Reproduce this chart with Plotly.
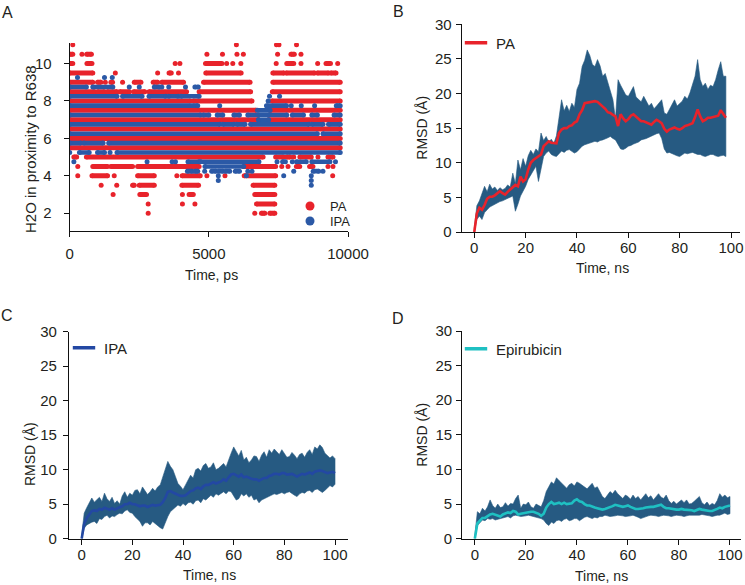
import plotly.graph_objects as go

# ---------------- Panel A data (water count vs time, ps) ----------------
# each level lists runs [start, end] of consecutive frames or single frames [t]
pa_levels = [11, 10.5, 10, 9.5, 9, 8.5, 8, 7.5, 7, 6.5, 6, 5.5, 5, 4.5, 4, 3.5, 3, 2.5, 2]
pa_runs = [
    [[110], [5990], [7430], [7520], [8150]],
    [[0, 110], [440], [610, 780], [4930], [5490], [6010], [6240], [7470], [7950, 8070], [8310]],
    [[0, 110], [620, 800], [3790], [3960], [4880, 5470], [5640], [5860], [6150], [7420], [7800, 8050],
     [8310], [8910], [9210, 9370], [9630]],
    [[0, 830], [1640], [3160], [3570, 3650], [3910], [4890, 6160], [7300, 7700], [7780, 8800],
     [8900, 9300], [9380, 9570]],
    [[0, 830], [1000, 1120], [1280], [1480, 1540], [1900], [2320, 2560], [3000, 3160], [3310, 4090],
     [4810, 6480], [7300, 9720]],
    [[0, 900], [1000, 1250], [1350, 1700], [1800, 2150], [2300, 2700], [2850, 4200], [4650, 6500],
     [7280, 9720]],
    [[0, 4330], [4440, 6550], [7270, 9720]],
    [[0, 6700], [7200, 9720]],
    [[0, 6780], [7150, 9720]],
    [[0, 9720]],
    [[0, 9720]],
    [[0, 9720]],
    [[150, 250], [600, 6950], [7400, 7680], [7800, 7920], [8050], [8270, 8680], [8920], [9280, 9460]],
    [[290], [830, 1360], [1480, 2260], [2440, 3460], [3500, 4650], [6260, 7400], [7620], [7845],
     [8145, 8265], [8620, 8740], [9280], [9460]],
    [[290], [800, 1360], [1600], [2440, 3040], [3850], [4040, 4690], [4930], [5580], [6270, 7400], [9450]],
    [[1130], [1690], [2260, 2320], [2500, 3040], [4030, 4630], [6590, 7370]],
    [[1560], [2520, 2760], [4050], [4290, 4440], [6650, 7370]],
    [[2820], [4050], [4500], [6710, 7370]],
    [[2820], [6650], [6890, 7010], [7190, 7370]],
]

ipa_levels = [9.25, 8.75, 8.25, 8.0, 7.75, 7.5, 7.25, 7.0, 6.75, 6.25, 5.75, 5.25, 4.75, 4.5, 4.25, 4.0, 3.75, 3.5]
ipa_runs = [
    [[280], [1250], [1530]],
    [[0, 600], [830, 1550], [2140], [2500], [3040, 3220], [3310], [3560], [4160], [4500, 4620]],
    [[0, 1700], [1900, 2600], [2850, 3450], [3550, 3900], [4000, 4650], [7180], [7540]],
    [[7130]],
    [[0, 4600], [5390], [7070, 7790], [7960], [8320], [8800], [9580, 9720]],
    [[6750, 7200]],
    [[0, 4700], [4800, 5000], [5300, 5500], [5900, 6100], [6400, 7800], [8000, 8400], [8700, 8900], [9500, 9720]],
    [[6780, 7150]],
    [[0, 5400], [5500, 5900], [6000, 6300], [6500, 8600], [8700, 9100], [9300, 9720]],
    [[0, 8900], [9100, 9720]],
    [[0, 400], [500, 1200], [1400, 9720]],
    [[0], [350, 700], [1000, 1250], [1450], [1700, 9720]],
    [[150], [2780], [3680], [3800], [4250, 4650], [4700, 6800], [7450], [7650, 7750], [8000], [8150, 8500],
     [8700, 9350], [9550]],
    [[4860, 6250]],
    [[4230, 4400], [4500, 4600], [4850], [5100, 5250], [5350, 5500], [5600, 5750], [5950, 6100], [6400],
     [6550], [8050], [8750, 8950], [9100]],
    [[5340], [6350], [7690], [8680]],
    [[5340], [8680]],
    [[8680]],
]

a_xticks = [0, 5000, 10000]
a_xticktext = ["0", "5000", "10000"]
a_yticks = [2, 4, 6, 8, 10]

# ---------------- Panel B data (PA RMSD, ns) ----------------
b_time = list(range(0, 99))
b_upper = [0.5, 3.8, 4.5, 5.5, 6.6, 5.8, 6.9, 6.2, 6.5, 6.0, 6.4, 6.1, 6.3, 6.8, 6.5, 8.5, 7.0, 10.4, 9.0, 10.6,
           9.5, 11.0, 11.8, 11.2, 12.0, 11.6, 14.3, 13.2, 13.8, 13.0, 13.4, 12.8, 13.9, 16.5, 19.1, 17.5, 18.3,
           17.4, 18.6, 18.0, 20.6, 21.5, 23.9, 24.8, 26.3, 25.5, 24.2, 23.9, 24.9, 24.0, 22.5, 22.9, 21.5, 20.2,
           19.1, 16.3, 22.0, 21.2, 20.6, 19.8, 19.6, 20.4, 21.0, 19.5, 19.1, 18.8, 19.6, 19.0, 18.2, 18.6, 17.8,
           18.2, 18.6, 19.1, 17.2, 17.0, 17.7, 18.5, 19.1, 18.2, 18.6, 18.9, 19.6, 19.2, 20.1, 21.3, 22.5, 24.9,
           22.0, 21.0, 21.5, 20.6, 21.2, 21.0, 22.0, 23.4, 24.6, 22.5, 22.5]
b_lower = [0.0, 1.8, 2.3, 1.8, 2.8, 3.2, 3.6, 3.9, 4.0, 4.2, 4.4, 4.5, 4.7, 4.8, 5.0, 5.2, 3.0, 4.0, 5.2, 5.9,
           6.6, 7.6, 8.2, 8.8, 9.5, 7.3, 9.0, 10.9, 11.4, 11.7, 11.2, 11.0, 10.9, 11.3, 11.7, 11.5, 11.8, 11.9,
           11.6, 11.4, 11.6, 12.0, 12.4, 12.6, 12.8, 12.9, 13.0, 13.1, 13.0, 13.2, 13.3, 13.4, 13.6, 13.8, 13.5,
           13.3, 12.6, 12.0, 11.9, 12.1, 12.4, 12.5, 12.7, 12.9, 13.0, 13.3, 13.4, 13.5, 13.7, 13.8, 14.0, 14.2,
           14.3, 13.5, 12.0, 11.4, 11.5, 11.4, 11.2, 11.0, 10.9, 11.2, 11.4, 11.3, 11.4, 11.5, 11.3, 11.2, 11.2,
           11.0, 10.9, 11.0, 11.2, 11.2, 11.0, 10.9, 11.0, 11.1, 10.9]
b_mean = [0.0, 2.7, 3.5, 3.2, 3.9, 4.8, 5.1, 5.1, 5.3, 5.6, 5.9, 5.6, 5.4, 5.8, 6.1, 6.5, 6.8, 6.6, 8.0, 7.3,
          7.6, 9.0, 10.0, 10.4, 10.7, 10.9, 11.2, 12.4, 12.8, 13.1, 12.9, 12.9, 12.8, 14.3, 14.8, 15.0, 15.0,
          15.3, 15.4, 15.8, 16.0, 17.0, 17.6, 18.6, 18.7, 18.8, 18.9, 18.9, 18.8, 18.5, 18.2, 17.8, 17.3, 17.2,
          16.9, 16.7, 15.3, 17.0, 16.4, 16.0, 16.3, 16.8, 17.0, 16.7, 16.3, 16.0, 16.0, 15.8, 15.6, 15.5, 15.9,
          16.2, 16.0, 15.7, 14.9, 14.5, 14.8, 15.0, 15.1, 14.9, 14.8, 15.0, 15.3, 15.4, 15.6, 15.7, 16.6, 17.7,
          16.7, 16.0, 16.2, 16.5, 16.5, 16.6, 16.7, 16.8, 17.6, 17.0, 16.5]

# ---------------- Panel C data (IPA RMSD, ns) ----------------
c_time = list(range(0, 101))
c_upper = [0.5, 3.7, 4.5, 5.2, 5.9, 5.3, 5.6, 6.0, 5.4, 6.6, 5.8, 5.4, 6.0, 5.1, 5.5, 5.0, 6.2, 6.8, 6.0, 6.6,
           6.3, 7.0, 7.1, 6.5, 7.5, 7.0, 6.4, 6.8, 7.3, 6.9, 7.5, 7.8, 9.0, 10.2, 11.2, 10.5, 10.0, 9.0, 8.0,
           7.6, 7.1, 7.8, 8.5, 9.2, 8.8, 10.0, 10.2, 9.8, 10.6, 10.9, 10.2, 10.4, 11.0, 10.0, 10.2, 10.6, 10.9,
           10.4, 11.5, 12.4, 13.3, 12.6, 12.0, 12.8, 11.4, 11.8, 11.0, 11.4, 12.0, 11.9, 11.2, 12.1, 12.6, 11.8,
           12.9, 12.4, 13.0, 12.6, 12.2, 12.9, 12.4, 11.8, 11.9, 12.5, 12.1, 11.6, 12.2, 12.4, 11.8, 12.5, 12.9,
           12.2, 13.3, 13.0, 13.6, 13.2, 12.4, 12.0, 11.7, 12.0, 11.6]
c_lower = [0.0, 1.5, 2.0, 2.2, 2.4, 2.5, 2.2, 2.9, 2.8, 3.2, 3.4, 3.0, 3.3, 3.2, 3.5, 3.7, 3.6, 4.0, 4.2, 3.8,
           3.7, 3.2, 2.8, 2.5, 1.8, 2.3, 2.3, 2.0, 2.5, 2.2, 1.9, 1.6, 1.4, 2.2, 3.2, 3.9, 4.2, 4.6, 4.9, 4.7,
           5.1, 4.8, 5.2, 5.3, 5.0, 5.5, 5.6, 5.2, 5.8, 5.6, 6.0, 6.3, 6.0, 6.5, 6.3, 6.6, 6.8, 6.5, 6.9, 6.8,
           6.2, 5.6, 5.8, 6.5, 6.2, 6.5, 6.0, 6.3, 5.6, 5.8, 5.2, 5.6, 5.8, 6.0, 6.2, 6.3, 6.5, 6.4, 6.6, 6.7,
           6.5, 6.7, 6.8, 6.6, 6.3, 6.1, 6.5, 6.7, 6.6, 6.9, 7.0, 6.7, 7.1, 7.2, 6.9, 6.7, 7.0, 7.3, 7.7, 7.5,
           7.9]
c_mean = [0.0, 2.2, 3.0, 3.5, 4.0, 4.1, 4.0, 4.3, 4.2, 4.5, 4.3, 4.2, 4.4, 4.2, 4.4, 4.5, 4.7, 5.0, 5.0, 5.2,
          5.0, 5.0, 4.9, 4.7, 4.8, 4.8, 4.6, 4.7, 4.9, 4.8, 4.9, 4.9, 5.3, 5.9, 6.8, 6.9, 6.7, 6.5, 6.3, 6.2,
          6.2, 6.3, 6.6, 6.9, 7.0, 7.3, 7.4, 7.2, 7.6, 7.8, 7.8, 8.0, 8.2, 8.0, 8.1, 8.3, 8.6, 8.4, 8.9, 9.3,
          9.4, 9.2, 9.0, 9.3, 8.9, 9.0, 8.8, 8.7, 8.6, 8.6, 8.4, 8.6, 8.8, 8.8, 9.1, 9.2, 9.4, 9.4, 9.3, 9.5,
          9.5, 9.3, 9.3, 9.4, 9.2, 9.0, 9.2, 9.4, 9.3, 9.5, 9.6, 9.4, 9.7, 9.8, 9.9, 9.8, 9.6, 9.5, 9.6, 9.7,
          9.5]

# ---------------- Panel D data (Epirubicin RMSD, ns) ----------------
d_time = list(range(0, 101))
d_upper = [0.5, 3.9, 3.6, 4.4, 4.0, 4.6, 5.6, 4.8, 4.4, 5.0, 4.5, 4.6, 5.2, 4.7, 5.1, 5.0, 5.8, 6.3, 4.4, 5.0,
           4.9, 5.3, 4.6, 4.4, 5.0, 4.8, 4.6, 5.5, 6.8, 7.5, 8.2, 7.9, 8.8, 8.4, 8.0, 7.6, 7.3, 7.8, 8.0, 7.6,
           8.2, 8.0, 7.7, 7.5, 7.2, 7.6, 8.0, 7.3, 7.5, 6.8, 6.1, 5.8, 6.4, 6.8, 6.5, 7.0, 6.5, 6.2, 5.8, 6.3,
           6.1, 5.7, 6.3, 5.8, 6.1, 5.6, 6.0, 6.5, 5.9, 6.2, 5.6, 6.0, 6.5, 6.0, 5.8, 6.3, 5.5, 5.1, 5.4, 5.0,
           5.3, 5.6, 5.2, 5.6, 5.0, 5.1, 5.4, 5.8, 6.1, 5.2, 4.9, 5.3, 4.8, 5.1, 4.9, 5.5, 6.5, 6.0, 6.3, 5.9,
           6.1]
d_lower = [0.0, 1.9, 2.3, 2.7, 2.6, 2.9, 2.8, 2.9, 2.7, 2.9, 2.9, 3.0, 3.1, 3.2, 3.0, 3.3, 3.4, 3.3, 3.2, 3.2,
           3.3, 3.4, 3.3, 3.2, 3.2, 3.0, 2.9, 2.7, 2.2, 1.9, 2.4, 2.2, 2.6, 2.7, 2.5, 2.8, 2.9, 2.6, 2.7, 2.9,
           2.9, 2.6, 2.8, 3.1, 3.2, 3.0, 2.9, 3.1, 3.0, 3.2, 3.2, 3.4, 3.3, 3.2, 3.2, 3.3, 3.4, 3.4, 3.3, 3.2,
           3.2, 3.3, 3.4, 3.3, 3.1, 2.9, 3.1, 3.2, 3.3, 3.4, 3.4, 3.3, 3.2, 3.3, 3.4, 3.4, 3.3, 3.2, 3.3, 3.4,
           3.4, 3.3, 3.2, 3.3, 3.4, 3.4, 3.5, 3.4, 3.4, 3.5, 3.4, 3.4, 3.3, 3.2, 3.3, 3.4, 3.4, 3.5, 3.7, 3.5,
           3.6]
d_mean = [0.0, 2.2, 2.6, 3.0, 3.0, 3.3, 3.5, 3.6, 3.5, 3.4, 3.2, 3.5, 3.6, 3.8, 3.7, 4.0, 3.9, 3.5, 3.6, 3.7,
          3.7, 3.9, 3.9, 3.9, 3.8, 3.6, 3.3, 3.6, 4.5, 5.0, 5.3, 5.0, 5.1, 5.2, 5.0, 5.2, 5.0, 5.1, 5.1, 5.5,
          5.7, 5.4, 5.3, 5.0, 4.8, 4.8, 4.6, 4.5, 4.4, 4.3, 4.2, 4.3, 4.4, 4.5, 4.7, 4.9, 4.8, 4.7, 4.6, 4.7,
          4.8, 4.6, 4.4, 4.3, 4.3, 4.3, 4.4, 4.5, 4.6, 4.6, 4.6, 4.7, 4.8, 4.9, 4.6, 4.4, 4.4, 4.3, 4.3, 4.2,
          4.2, 4.3, 4.2, 4.2, 4.1, 4.1, 4.0, 4.2, 4.3, 4.2, 4.1, 4.1, 4.0, 4.0, 4.1, 4.3, 4.5, 4.4, 4.6, 4.7,
          4.8]

rmsd_xticks = [0, 20, 40, 60, 80, 100]
rmsd_yticks = [0, 5, 10, 15, 20, 25, 30]

# ---------------- styling ----------------
W, H = 745, 585
FONT = "Arial, Liberation Sans, Helvetica, sans-serif"
TXT = "#231f20"
RED = "#e8232b"
BLUE = "#2b59a6"
BAND = "#265a82"
C_LINE = "#2348a3"
D_LINE = "#1fc0c2"


def px(x):
    return x / W


def py(y):
    return 1 - y / H


def runs_to_xy(levels, runs):
    xs, ys = [], []
    for lv, rr in zip(levels, runs):
        for r in rr:
            for t in r:
                xs.append(t)
                ys.append(lv)
            xs.append(None)
            ys.append(None)
    return xs, ys


fig = go.Figure()

# Panel A
pax, pay = runs_to_xy(pa_levels, pa_runs)
ipx, ipy = runs_to_xy(ipa_levels, ipa_runs)
fig.add_trace(go.Scatter(x=pax, y=pay, mode="lines+markers", line=dict(color=RED, width=5),
                         marker=dict(color=RED, size=5), xaxis="x", yaxis="y", showlegend=False,
                         hoverinfo="skip"))
fig.add_trace(go.Scatter(x=ipx, y=ipy, mode="lines+markers", line=dict(color=BLUE, width=4.6),
                         marker=dict(color=BLUE, size=5), xaxis="x", yaxis="y", showlegend=False,
                         hoverinfo="skip"))
fig.add_trace(go.Scatter(x=[None], y=[None], mode="markers", name="PA",
                         marker=dict(color=RED, size=9), xaxis="x", yaxis="y", legend="legend"))
fig.add_trace(go.Scatter(x=[None], y=[None], mode="markers", name="IPA",
                         marker=dict(color=BLUE, size=9), xaxis="x", yaxis="y", legend="legend5"))


def add_rmsd(t, up, lo, mean, xa, ya, color, name, leg):
    fig.add_trace(go.Scatter(x=t + t[::-1], y=up + lo[::-1], fill="toself", fillcolor=BAND,
                             line=dict(color=BAND, width=0.6), mode="lines", xaxis=xa, yaxis=ya,
                             showlegend=False, hoverinfo="skip"))
    fig.add_trace(go.Scatter(x=t, y=mean, mode="lines", line=dict(color=color, width=2.6),
                             xaxis=xa, yaxis=ya, showlegend=False))
    fig.add_trace(go.Scatter(x=[None], y=[None], mode="markers", name=name,
                             marker=dict(symbol="line-ew", size=16, line=dict(color=color, width=3.5)),
                             xaxis=xa, yaxis=ya, legend=leg))


add_rmsd(b_time, b_upper, b_lower, b_mean, "x2", "y2", RED, "PA", "legend2")
add_rmsd(c_time, c_upper, c_lower, c_mean, "x3", "y3", C_LINE, "IPA", "legend3")
add_rmsd(d_time, d_upper, d_lower, d_mean, "x4", "y4", D_LINE, "Epirubicin", "legend4")

axis_common = dict(showline=True, linecolor="#111", linewidth=1.2, ticks="outside", ticklen=5,
                   tickwidth=1.2, tickcolor="#111", showgrid=False, zeroline=False,
                   tickfont=dict(family=FONT, size=15, color=TXT), fixedrange=True, automargin=False)

layout = dict(
    width=W, height=H, autosize=False,
    margin=dict(l=0, r=0, t=0, b=0, pad=0, autoexpand=False),
    paper_bgcolor="white", plot_bgcolor="white", font=dict(family=FONT, color=TXT),
    xaxis=dict(axis_common, domain=[px(69.7), px(348)], range=[0, 10000], tickvals=a_xticks,
               ticktext=a_xticktext, anchor="y", ticklabelstandoff=4),
    yaxis=dict(axis_common, domain=[py(231), py(43)], range=[1.05, 11.1], tickvals=a_yticks,
               anchor="x", ticklabelstandoff=9),
    xaxis2=dict(axis_common, domain=[px(461.7), px(740)], range=[-4.9, 103.5], tickvals=rmsd_xticks,
                anchor="y2", ticklabelstandoff=-3),
    yaxis2=dict(axis_common, domain=[py(232), py(24.3)], range=[0, 30], tickvals=rmsd_yticks,
                anchor="x2", ticklabelstandoff=1),
    xaxis3=dict(axis_common, domain=[px(69), px(347.7)], range=[-5, 105], tickvals=rmsd_xticks,
                anchor="y3", ticklabelstandoff=-3),
    yaxis3=dict(axis_common, domain=[py(538.7), py(331.7)], range=[0, 30], tickvals=rmsd_yticks,
                anchor="x3", ticklabelstandoff=3),
    xaxis4=dict(axis_common, domain=[px(462.3), px(740.7)], range=[-4.9, 104.2], tickvals=rmsd_xticks,
                anchor="y4", ticklabelstandoff=-3),
    yaxis4=dict(axis_common, domain=[py(538.7), py(331)], range=[0, 30], tickvals=rmsd_yticks,
                anchor="x4", ticklabelstandoff=1),
)

leg_common = dict(bgcolor="rgba(0,0,0,0)", borderwidth=0, xanchor="left",
                  yanchor="middle", itemclick=False, itemdoubleclick=False)
leg_font_a = dict(family=FONT, size=13, color=TXT)
leg_font = dict(family=FONT, size=15, color=TXT)
layout["legend"] = dict(leg_common, font=leg_font_a, x=px(290), y=py(206))
layout["legend5"] = dict(leg_common, font=leg_font_a, x=px(290), y=py(221))
layout["legend2"] = dict(leg_common, font=leg_font, x=px(456), y=py(43))
layout["legend3"] = dict(leg_common, font=leg_font, x=px(64), y=py(348))
layout["legend4"] = dict(leg_common, font=leg_font, x=px(456), y=py(349))

ann = []
for letter, x, y in [("A", 7.5, 12), ("B", 398, 11), ("C", 7, 315), ("D", 398, 319)]:
    ann.append(dict(text=letter, x=px(x), y=py(y), xref="paper", yref="paper", showarrow=False,
                    font=dict(family=FONT, size=16, color=TXT), xanchor="center", yanchor="middle"))
for text, x, y, ang, fs in [
    ("H2O in proximity to R638", 30, 149, -90, 15),
    ("Time, ps", 211, 275, 0, 14),
    ("RMSD (Å)", 421.7, 128, -90, 14),
    ("Time, ns", 602, 268, 0, 14),
    ("RMSD (Å)", 30, 454, -90, 14),
    ("Time, ns", 209, 575, 0, 14),
    ("RMSD (Å)", 421.7, 435, -90, 14),
    ("Time, ns", 601.7, 576, 0, 14),
]:
    ann.append(dict(text=text, x=px(x), y=py(y), xref="paper", yref="paper", showarrow=False,
                    font=dict(family=FONT, size=fs, color=TXT), textangle=ang,
                    xanchor="center", yanchor="middle"))
layout["annotations"] = ann

fig.update_layout(layout)
fig.write_html("out.html", config={"displayModeBar": False},
               post_script="document.body.style.margin='0px'; document.body.style.overflow='hidden';")
